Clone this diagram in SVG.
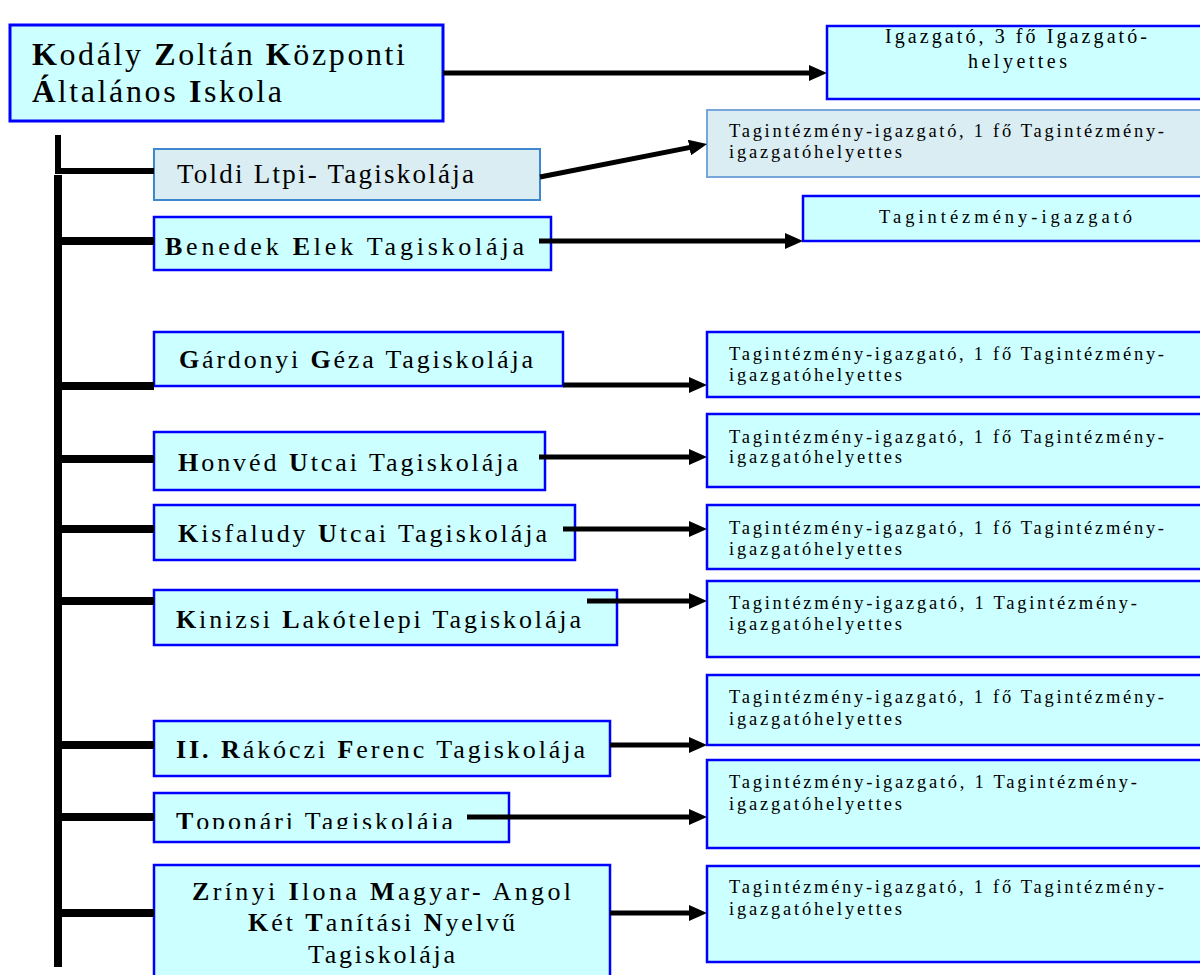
<svg xmlns="http://www.w3.org/2000/svg" width="1200" height="975" viewBox="0 0 1200 975">
<style>
text{font-family:"Liberation Serif","Times New Roman",serif;fill:#000}
.box{fill:#CCFFFF;stroke:#0000FF;stroke-width:2.5}
.tbox{fill:#DAEDF3;stroke:#3F88D0;stroke-width:2}
.tboxr{fill:#DAEDF3;stroke:#78A5DA;stroke-width:2}
.sch{font-size:26px}
.mgr{font-size:18.5px}
.b{font-weight:bold}
.conn line{stroke:#000;fill:none}
.br{stroke-width:8}
.ar{stroke-width:5;marker-end:url(#ah)}
</style>
<defs>
<marker id="ah" markerUnits="userSpaceOnUse" markerWidth="18" markerHeight="16" refX="10" refY="8" orient="auto"><path d="M0,0 L18,8 L0,16 z" fill="#000"/></marker>
<clipPath id="topclip"><rect x="154" y="795" width="355" height="34"/></clipPath>
</defs>
<rect width="1200" height="975" fill="#fff"/>

<g id="kodaly">
<rect x="10" y="25" width="433" height="96" class="box" style="stroke-width:3"/>
<text x="32" y="65" font-size="32" textLength="373" lengthAdjust="spacing"><tspan class="b">K</tspan>odály <tspan class="b">Z</tspan>oltán <tspan class="b">K</tspan>özponti</text>
<text x="32" y="102" font-size="32" textLength="250" lengthAdjust="spacing"><tspan class="b">Á</tspan>ltalános <tspan class="b">I</tspan>skola</text>
</g>
<g id="igazgato">
<rect x="827" y="26" width="380" height="73" class="box"/>
<text x="885" y="43" font-size="20" textLength="262" lengthAdjust="spacing">Igazgató, 3 fő Igazgató-</text>
<text x="968" y="68" font-size="20" textLength="99" lengthAdjust="spacing">helyettes</text>
</g>

<g id="toldi">
<rect x="154" y="149" width="386" height="51" class="tbox"/>
<text x="177" y="183" font-size="27" textLength="297" lengthAdjust="spacing">Toldi Ltpi- Tagiskolája</text>
</g>
<g id="toldi-vez">
<rect x="707" y="110" width="500" height="67" class="tboxr"/>
<text x="729" y="137" class="mgr" textLength="435" lengthAdjust="spacing">Tagintézmény-igazgató, 1 fő Tagintézmény-</text>
<text x="729" y="158" class="mgr" textLength="173" lengthAdjust="spacing">igazgatóhelyettes</text>
</g>

<g id="benedek">
<rect x="154" y="217" width="397" height="53" class="box"/>
<text x="165" y="255" class="sch" textLength="359" lengthAdjust="spacing"><tspan class="b">B</tspan>enedek <tspan class="b">E</tspan>lek Tagiskolája</text>
</g>
<g id="benedek-vez">
<rect x="803" y="196" width="400" height="45" class="box"/>
<text x="879" y="223" class="mgr" textLength="253" lengthAdjust="spacing">Tagintézmény-igazgató</text>
</g>

<g id="gardonyi">
<rect x="154" y="332" width="409" height="54" class="box"/>
<text x="179" y="368" class="sch" textLength="354" lengthAdjust="spacing"><tspan class="b">G</tspan>árdonyi <tspan class="b">G</tspan>éza Tagiskolája</text>
</g>
<g id="gardonyi-vez">
<rect x="707" y="332" width="500" height="65" class="box"/>
<text x="729" y="360" class="mgr" textLength="435" lengthAdjust="spacing">Tagintézmény-igazgató, 1 fő Tagintézmény-</text>
<text x="729" y="381" class="mgr" textLength="173" lengthAdjust="spacing">igazgatóhelyettes</text>
</g>

<g id="honved">
<rect x="154" y="432" width="391" height="58" class="box"/>
<text x="178" y="471" class="sch" textLength="340" lengthAdjust="spacing"><tspan class="b">H</tspan>onvéd <tspan class="b">U</tspan>tcai Tagiskolája</text>
</g>
<g id="honved-vez">
<rect x="707" y="414" width="500" height="73" class="box"/>
<text x="729" y="443" class="mgr" textLength="435" lengthAdjust="spacing">Tagintézmény-igazgató, 1 fő Tagintézmény-</text>
<text x="729" y="463" class="mgr" textLength="173" lengthAdjust="spacing">igazgatóhelyettes</text>
</g>

<g id="kisfaludy">
<rect x="154" y="505" width="421" height="55" class="box"/>
<text x="178" y="542" class="sch" textLength="369" lengthAdjust="spacing"><tspan class="b">K</tspan>isfaludy <tspan class="b">U</tspan>tcai Tagiskolája</text>
</g>
<g id="kisfaludy-vez">
<rect x="707" y="505" width="500" height="64" class="box"/>
<text x="729" y="534" class="mgr" textLength="435" lengthAdjust="spacing">Tagintézmény-igazgató, 1 fő Tagintézmény-</text>
<text x="729" y="555" class="mgr" textLength="173" lengthAdjust="spacing">igazgatóhelyettes</text>
</g>

<g id="kinizsi">
<rect x="154" y="590" width="463" height="55" class="box"/>
<text x="176" y="628" class="sch" textLength="405" lengthAdjust="spacing"><tspan class="b">K</tspan>inizsi <tspan class="b">L</tspan>akótelepi Tagiskolája</text>
</g>
<g id="kinizsi-vez">
<rect x="707" y="581" width="500" height="76" class="box"/>
<text x="729" y="609" class="mgr" textLength="408" lengthAdjust="spacing">Tagintézmény-igazgató, 1 Tagintézmény-</text>
<text x="729" y="630" class="mgr" textLength="173" lengthAdjust="spacing">igazgatóhelyettes</text>
</g>

<g id="rakoczi">
<rect x="154" y="721" width="456" height="55" class="box"/>
<text x="176" y="758" class="sch" textLength="409" lengthAdjust="spacing"><tspan class="b">II. R</tspan>ákóczi <tspan class="b">F</tspan>erenc Tagiskolája</text>
</g>
<g id="rakoczi-vez">
<rect x="707" y="675" width="500" height="70" class="box"/>
<text x="729" y="703" class="mgr" textLength="435" lengthAdjust="spacing">Tagintézmény-igazgató, 1 fő Tagintézmény-</text>
<text x="729" y="725" class="mgr" textLength="173" lengthAdjust="spacing">igazgatóhelyettes</text>
</g>

<g id="toponari">
<rect x="154" y="793" width="355" height="49" class="box"/>
<text x="176" y="830" class="sch" textLength="277" lengthAdjust="spacing" clip-path="url(#topclip)"><tspan class="b">T</tspan>oponári Tagiskolája</text>
</g>
<g id="toponari-vez">
<rect x="707" y="760" width="500" height="88" class="box"/>
<text x="729" y="788" class="mgr" textLength="408" lengthAdjust="spacing">Tagintézmény-igazgató, 1 Tagintézmény-</text>
<text x="729" y="810" class="mgr" textLength="173" lengthAdjust="spacing">igazgatóhelyettes</text>
</g>

<g id="zrinyi">
<rect x="154" y="865" width="456" height="120" class="box"/>
<text x="192" y="900" class="sch" textLength="379" lengthAdjust="spacing"><tspan class="b">Z</tspan>rínyi <tspan class="b">I</tspan>lona  <tspan class="b">M</tspan>agyar- Angol</text>
<text x="248" y="931" class="sch" textLength="267" lengthAdjust="spacing"><tspan class="b">K</tspan>ét <tspan class="b">T</tspan>anítási <tspan class="b">N</tspan>yelvű</text>
<text x="308" y="963" class="sch" textLength="147" lengthAdjust="spacing">Tagiskolája</text>
</g>
<g id="zrinyi-vez">
<rect x="707" y="866" width="500" height="96" class="box"/>
<text x="729" y="893" class="mgr" textLength="435" lengthAdjust="spacing">Tagintézmény-igazgató, 1 fő Tagintézmény-</text>
<text x="729" y="915" class="mgr" textLength="173" lengthAdjust="spacing">igazgatóhelyettes</text>
</g>

<g id="connectors" class="conn">
<line x1="58" y1="135" x2="58" y2="174" stroke-width="6"/>
<line x1="55" y1="171" x2="154" y2="171" stroke-width="6"/>
<line x1="58" y1="175" x2="58" y2="967" class="br"/>
<line x1="58" y1="241" x2="154" y2="241" class="br"/>
<line x1="58" y1="386" x2="154" y2="386" class="br"/>
<line x1="58" y1="459" x2="154" y2="459" class="br"/>
<line x1="58" y1="529" x2="154" y2="529" class="br"/>
<line x1="58" y1="601" x2="154" y2="601" class="br"/>
<line x1="58" y1="745" x2="154" y2="745" class="br"/>
<line x1="58" y1="817" x2="154" y2="817" class="br"/>
<line x1="58" y1="913" x2="154" y2="913" class="br"/>
<line x1="443" y1="73" x2="819" y2="73" class="ar"/>
<line x1="540" y1="177" x2="699.2" y2="145.6" class="ar"/>
<line x1="539" y1="241" x2="795" y2="241" class="ar"/>
<line x1="563" y1="385" x2="699" y2="385" class="ar"/>
<line x1="539" y1="457" x2="699" y2="457" class="ar"/>
<line x1="563" y1="529" x2="699" y2="529" class="ar"/>
<line x1="587" y1="601" x2="699" y2="601" class="ar"/>
<line x1="610" y1="745" x2="699" y2="745" class="ar"/>
<line x1="467" y1="817" x2="699" y2="817" class="ar"/>
<line x1="610" y1="913" x2="699" y2="913" class="ar"/>
</g>
</svg>
